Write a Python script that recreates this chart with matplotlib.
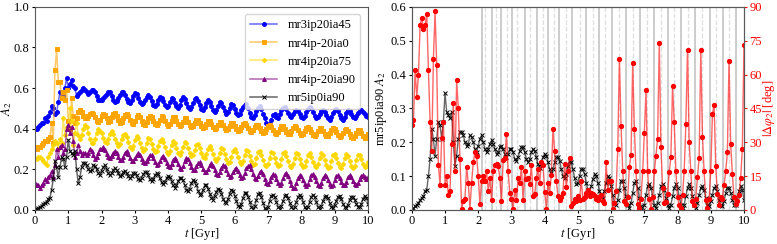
import numpy as np
import matplotlib
matplotlib.use("Agg")
import matplotlib.pyplot as plt

plt.rcParams['font.family'] = ['Liberation Serif', 'DejaVu Serif']
plt.rcParams['mathtext.fontset'] = 'stix'
plt.rcParams['font.size'] = 9
plt.rcParams['axes.edgecolor'] = '0.35'
plt.rcParams['xtick.major.size'] = 2.5
plt.rcParams['ytick.major.size'] = 2.5
plt.rcParams['xtick.major.pad'] = 1.0
plt.rcParams['ytick.major.pad'] = 1.5

# A2 of each run, sampled every 0.05 Gyr from 0 to 10 Gyr
names = ['mr3ip20ia45', 'mr4ip-20ia0', 'mr4ip20ia75', 'mr4ip-20ia90', 'mr5ip0ia90']

a2_mr3ip20ia45 = [
    0.40, 0.40, 0.41, 0.42, 0.43, 0.43, 0.45, 0.44, 0.46, 0.48,
    0.51, 0.50, 0.47, 0.48, 0.53, 0.58, 0.55, 0.56, 0.60, 0.65,
    0.60, 0.62, 0.64, 0.61, 0.60, 0.56, 0.57, 0.58, 0.59, 0.60,
    0.59, 0.58, 0.57, 0.58, 0.59, 0.59, 0.58, 0.56, 0.54, 0.54,
    0.54, 0.55, 0.56, 0.57, 0.58, 0.58, 0.56, 0.54, 0.53, 0.535,
    0.55, 0.565, 0.58, 0.58, 0.565, 0.545, 0.53, 0.525, 0.54, 0.56,
    0.575, 0.57, 0.55, 0.53, 0.52, 0.525, 0.54, 0.555, 0.565, 0.555,
    0.535, 0.515, 0.51, 0.52, 0.54, 0.555, 0.55, 0.535, 0.515, 0.505,
    0.51, 0.53, 0.55, 0.545, 0.525, 0.51, 0.50, 0.515, 0.54, 0.555,
    0.545, 0.525, 0.505, 0.495, 0.505, 0.525, 0.545, 0.55, 0.535, 0.515,
    0.495, 0.49, 0.505, 0.525, 0.54, 0.53, 0.51, 0.49, 0.48, 0.49,
    0.51, 0.53, 0.525, 0.505, 0.485, 0.47, 0.48, 0.50, 0.52, 0.515,
    0.495, 0.475, 0.465, 0.47, 0.49, 0.505, 0.515, 0.52, 0.50, 0.475,
    0.455, 0.45, 0.465, 0.485, 0.50, 0.51, 0.495, 0.47, 0.45, 0.43,
    0.42, 0.425, 0.445, 0.465, 0.47, 0.455, 0.45, 0.47, 0.49, 0.50,
    0.505, 0.495, 0.475, 0.46, 0.455, 0.47, 0.485, 0.49, 0.485, 0.47,
    0.455, 0.45, 0.46, 0.48, 0.495, 0.505, 0.50, 0.48, 0.46, 0.45,
    0.455, 0.47, 0.485, 0.49, 0.48, 0.465, 0.45, 0.445, 0.455, 0.475,
    0.49, 0.495, 0.485, 0.465, 0.45, 0.445, 0.455, 0.475, 0.49, 0.485,
    0.47, 0.455, 0.45, 0.46, 0.475, 0.49, 0.49, 0.48, 0.47, 0.46,
    0.455]

a2_mr4ip_20ia0 = [
    0.30, 0.30, 0.31, 0.31, 0.32, 0.33, 0.34, 0.34, 0.35, 0.36,
    0.43, 0.33, 0.69, 0.79, 0.63, 0.63, 0.55, 0.58, 0.54, 0.59,
    0.44, 0.40, 0.55, 0.46, 0.43, 0.45, 0.48, 0.49, 0.48, 0.46,
    0.45, 0.45, 0.46, 0.47, 0.475, 0.47, 0.455, 0.44, 0.435, 0.445,
    0.46, 0.47, 0.465, 0.45, 0.435, 0.44, 0.455, 0.47, 0.475, 0.46,
    0.445, 0.43, 0.435, 0.45, 0.465, 0.47, 0.46, 0.445, 0.43, 0.425,
    0.44, 0.455, 0.465, 0.455, 0.44, 0.425, 0.42, 0.435, 0.45, 0.46,
    0.455, 0.44, 0.425, 0.42, 0.43, 0.445, 0.46, 0.455, 0.44, 0.425,
    0.415, 0.425, 0.44, 0.455, 0.455, 0.44, 0.425, 0.415, 0.42, 0.435,
    0.45, 0.45, 0.435, 0.42, 0.41, 0.415, 0.43, 0.445, 0.445, 0.43,
    0.415, 0.405, 0.41, 0.425, 0.44, 0.44, 0.425, 0.41, 0.40, 0.405,
    0.42, 0.435, 0.435, 0.42, 0.405, 0.395, 0.40, 0.415, 0.43, 0.43,
    0.415, 0.40, 0.39, 0.395, 0.41, 0.425, 0.43, 0.42, 0.405, 0.39,
    0.385, 0.395, 0.41, 0.42, 0.42, 0.405, 0.39, 0.38, 0.385, 0.40,
    0.415, 0.42, 0.41, 0.395, 0.38, 0.375, 0.385, 0.40, 0.415, 0.415,
    0.40, 0.385, 0.375, 0.375, 0.39, 0.405, 0.415, 0.41, 0.395, 0.38,
    0.37, 0.375, 0.39, 0.405, 0.41, 0.40, 0.385, 0.37, 0.365, 0.375,
    0.39, 0.405, 0.405, 0.39, 0.375, 0.365, 0.365, 0.38, 0.395, 0.405,
    0.40, 0.385, 0.37, 0.36, 0.365, 0.38, 0.395, 0.40, 0.39, 0.375,
    0.36, 0.355, 0.365, 0.38, 0.395, 0.395, 0.38, 0.365, 0.355, 0.36,
    0.375]

a2_mr4ip20ia75 = [
    0.25, 0.25, 0.26, 0.26, 0.25, 0.24, 0.23, 0.22, 0.26, 0.28,
    0.30, 0.32, 0.34, 0.33, 0.30, 0.35, 0.33, 0.45, 0.37, 0.41,
    0.41, 0.50, 0.44, 0.32, 0.38, 0.43, 0.37, 0.35, 0.37, 0.40,
    0.42, 0.41, 0.38, 0.35, 0.33, 0.33, 0.35, 0.38, 0.40, 0.39,
    0.38, 0.355, 0.335, 0.33, 0.35, 0.375, 0.39, 0.375, 0.35, 0.33,
    0.315, 0.325, 0.35, 0.37, 0.375, 0.36, 0.335, 0.31, 0.30, 0.315,
    0.345, 0.365, 0.355, 0.33, 0.305, 0.29, 0.30, 0.33, 0.355, 0.35,
    0.325, 0.30, 0.285, 0.29, 0.315, 0.34, 0.35, 0.335, 0.31, 0.285,
    0.275, 0.29, 0.32, 0.34, 0.33, 0.305, 0.28, 0.27, 0.285, 0.31,
    0.335, 0.33, 0.305, 0.28, 0.265, 0.27, 0.295, 0.32, 0.325, 0.305,
    0.28, 0.26, 0.255, 0.275, 0.30, 0.315, 0.30, 0.275, 0.25, 0.24,
    0.255, 0.28, 0.305, 0.30, 0.275, 0.25, 0.23, 0.235, 0.26, 0.29,
    0.30, 0.285, 0.26, 0.235, 0.225, 0.24, 0.27, 0.295, 0.29, 0.265,
    0.24, 0.22, 0.225, 0.255, 0.285, 0.29, 0.27, 0.245, 0.22, 0.215,
    0.225, 0.255, 0.285, 0.28, 0.255, 0.23, 0.215, 0.22, 0.25, 0.28,
    0.285, 0.265, 0.24, 0.215, 0.21, 0.225, 0.255, 0.28, 0.275, 0.25,
    0.225, 0.21, 0.215, 0.24, 0.27, 0.28, 0.26, 0.235, 0.215, 0.21,
    0.225, 0.255, 0.28, 0.27, 0.245, 0.22, 0.205, 0.21, 0.24, 0.27,
    0.275, 0.255, 0.23, 0.21, 0.205, 0.225, 0.255, 0.275, 0.265, 0.24,
    0.215, 0.205, 0.215, 0.245, 0.27, 0.27, 0.25, 0.225, 0.21, 0.215,
    0.235]

a2_mr4ip_20ia90 = [
    0.13, 0.12, 0.12, 0.11, 0.12, 0.13, 0.15, 0.14, 0.16, 0.17,
    0.19, 0.16, 0.22, 0.30, 0.26, 0.31, 0.32, 0.28, 0.30, 0.40,
    0.42, 0.38, 0.41, 0.34, 0.26, 0.28, 0.32, 0.29, 0.27, 0.28,
    0.28, 0.27, 0.28, 0.30, 0.29, 0.27, 0.25, 0.26, 0.28, 0.30,
    0.30, 0.31, 0.295, 0.275, 0.26, 0.255, 0.265, 0.28, 0.29, 0.28,
    0.26, 0.245, 0.245, 0.26, 0.28, 0.29, 0.275, 0.255, 0.24, 0.24,
    0.255, 0.27, 0.28, 0.27, 0.25, 0.235, 0.23, 0.24, 0.255, 0.27,
    0.27, 0.255, 0.235, 0.22, 0.225, 0.24, 0.26, 0.265, 0.25, 0.23,
    0.215, 0.21, 0.225, 0.245, 0.255, 0.245, 0.225, 0.205, 0.20, 0.215,
    0.24, 0.255, 0.25, 0.23, 0.21, 0.195, 0.195, 0.215, 0.23, 0.235,
    0.22, 0.20, 0.185, 0.185, 0.20, 0.22, 0.23, 0.215, 0.195, 0.175,
    0.17, 0.185, 0.205, 0.22, 0.215, 0.195, 0.175, 0.16, 0.165, 0.185,
    0.20, 0.205, 0.19, 0.17, 0.155, 0.16, 0.18, 0.205, 0.215, 0.22,
    0.20, 0.175, 0.155, 0.15, 0.165, 0.185, 0.19, 0.175, 0.15, 0.13,
    0.125, 0.14, 0.16, 0.175, 0.17, 0.15, 0.13, 0.12, 0.13, 0.155,
    0.175, 0.18, 0.165, 0.14, 0.12, 0.11, 0.11, 0.13, 0.155, 0.17,
    0.165, 0.145, 0.125, 0.115, 0.125, 0.15, 0.17, 0.175, 0.16, 0.14,
    0.12, 0.115, 0.13, 0.155, 0.17, 0.165, 0.145, 0.125, 0.115, 0.12,
    0.145, 0.165, 0.17, 0.155, 0.135, 0.12, 0.12, 0.135, 0.16, 0.17,
    0.16, 0.14, 0.125, 0.12, 0.13, 0.15, 0.165, 0.17, 0.16, 0.15,
    0.16]

a2_mr5ip0ia90 = [
    0.0, 0.005, 0.01, 0.015, 0.02, 0.03, 0.035, 0.04, 0.055, 0.06,
    0.10, 0.15, 0.24, 0.21, 0.16, 0.21, 0.26, 0.25, 0.21, 0.26,
    0.345, 0.29, 0.28, 0.27, 0.29, 0.20, 0.13, 0.16, 0.21, 0.23,
    0.23, 0.22, 0.20, 0.19, 0.195, 0.22, 0.215, 0.20, 0.18, 0.17,
    0.19, 0.21, 0.22, 0.20, 0.18, 0.17, 0.18, 0.195, 0.205, 0.195,
    0.18, 0.165, 0.17, 0.185, 0.19, 0.18, 0.165, 0.155, 0.165, 0.18,
    0.18, 0.17, 0.15, 0.145, 0.155, 0.175, 0.185, 0.185, 0.17, 0.15,
    0.14, 0.15, 0.17, 0.18, 0.175, 0.155, 0.135, 0.125, 0.135, 0.155,
    0.165, 0.16, 0.14, 0.12, 0.11, 0.12, 0.14, 0.155, 0.155, 0.145,
    0.12, 0.10, 0.095, 0.105, 0.13, 0.145, 0.14, 0.12, 0.095, 0.075,
    0.08, 0.10, 0.12, 0.12, 0.105, 0.08, 0.06, 0.05, 0.07, 0.09,
    0.105, 0.10, 0.08, 0.055, 0.04, 0.035, 0.055, 0.08, 0.10, 0.095,
    0.07, 0.045, 0.02, 0.015, 0.03, 0.06, 0.085, 0.085, 0.065, 0.04,
    0.015, 0.005, 0.02, 0.05, 0.08, 0.085, 0.065, 0.035, 0.01, 0.0,
    0.015, 0.045, 0.07, 0.075, 0.065, 0.04, 0.015, 0.005, 0.02, 0.045,
    0.07, 0.075, 0.06, 0.035, 0.015, 0.005, 0.015, 0.04, 0.065, 0.075,
    0.065, 0.04, 0.015, 0.005, 0.015, 0.04, 0.065, 0.075, 0.065, 0.04,
    0.015, 0.005, 0.02, 0.045, 0.065, 0.07, 0.06, 0.035, 0.015, 0.01,
    0.025, 0.045, 0.065, 0.07, 0.055, 0.03, 0.015, 0.01, 0.025, 0.05,
    0.065, 0.065, 0.05, 0.03, 0.015, 0.015, 0.03, 0.055, 0.07, 0.06,
    0.03]

# phase difference |dphi2| in degrees (right panel)
dphi2 = [
    37.5, 40, 62, 50, 60, 82, 85, 80, 82, 87,
    62, 39, 26, 67, 88, 64, 20, 11, 32, 39,
    11, 15, 6.5, 8.5, 29, 47.5, 17, 57.5, 45, 22.5,
    0.5, 4, 5, 19, 12, 0.5, 12, 21, 25.5, 24,
    15, 2.5, 13, 15, 13, 17, 8.5, 14, 4.5, 17,
    20, 20.5, 19.5, 14, 4, 22, 23, 33.7, 17, 7.5,
    5, 0.5, 9, 4.5, 14, 12, 19, 4.5, 17, 13.5,
    14, 11.5, 20, 6, 7, 14, 18, 12, 21, 20,
    8, 0.5, 12, 7.5, 15.5, 36, 26, 13, 6, 4.5,
    5.5, 7.5, 20.5, 10, 17, 23, 1.5, 3, 5, 4,
    6, 4.5, 13, 5, 5.5, 7.5, 9, 6, 7.5, 7,
    6, 5, 4.5, 5.5, 6.5, 4, 3, 21, 9, 13,
    13, 0.5, 3, 8.5, 27, 67, 37, 17, 4, 2.5,
    5.5, 19, 24.5, 65, 36, 17, 2.5, 1, 5, 17,
    34, 53, 17, 5, 0.5, 5.5, 17, 24, 31.5, 74,
    28, 9.5, 3, 3.5, 7, 16.7, 23.5, 55, 39, 17,
    5.5, 2, 1, 6.5, 17, 38, 71, 30, 17, 4,
    2, 5, 14.5, 23, 71, 32.5, 17, 4.5, 1, 5,
    17, 42.5, 46.6, 19.5, 7, 2, 5.5, 5, 11, 17,
    25.5, 66, 29, 16, 5.5, 2.5, 4, 6.5, 14, 27,
    73]

# times [Gyr] of the marker lines in the right panel
t_solid = [2.10, 2.40, 2.70, 3.03, 3.40, 3.76, 4.09, 4.44, 4.81, 5.24, 5.64,
           6.02, 6.46, 6.86, 7.29, 7.71, 8.11, 8.53, 8.97, 9.37, 9.77]
t_dashed = [2.20, 2.53, 2.88, 3.18, 3.56, 3.94, 4.29, 4.64, 5.06, 5.44, 5.83,
            6.25, 6.65, 7.08, 7.50, 7.90, 8.31, 8.74, 9.16, 9.56]

series = [a2_mr3ip20ia45, a2_mr4ip_20ia0, a2_mr4ip20ia75, a2_mr4ip_20ia90, a2_mr5ip0ia90]
colors = ['blue', 'orange', 'gold', 'purple', 'black']
markers = ['o', 's', 'P', '^', 'x']

fig = plt.figure(figsize=(7.77, 2.44), dpi=100)
ax1 = fig.add_axes([0.045, 0.14, 0.4286, 0.832])
ax2 = fig.add_axes([0.530, 0.14, 0.4275, 0.832])

for vals, name, c, m in zip(series, names, colors, markers):
    t = np.linspace(0, 10, len(vals))
    rgba = matplotlib.colors.to_rgba(c, 0.6)
    ax1.plot(t, vals, color=rgba, lw=1.1, marker=m, ms=2.8,
             mfc=c, mec=c, mew=0.7, label=name)

ax1.set_xlim(0, 10)
ax1.set_ylim(0, 1.0)
ax1.set_xticks(range(0, 11))
ax1.set_yticks(np.arange(0, 1.01, 0.2))
ax1.set_xlabel(r'$t$ [Gyr]', labelpad=-0.5)
ax1.set_ylabel(r'$A_2$', labelpad=0)
leg = ax1.legend(loc='upper right', fontsize=9, frameon=True, handlelength=2.2,
                 borderaxespad=0.6)
leg.get_frame().set_edgecolor('0.8')

# right panel: A2 of mr5ip0ia90 and phase difference
for x in t_solid:
    ax2.axvline(x, color='0.8', lw=1.4, zorder=0)
for x in t_dashed:
    ax2.axvline(x, color='0.87', lw=0.9, ls='--', zorder=0)

tb = np.linspace(0, 10, len(a2_mr5ip0ia90))
ax2.plot(tb, a2_mr5ip0ia90, color=(0, 0, 0, 0.6), lw=1.0, marker='x', ms=3,
         mfc='black', mec='black', mew=0.7)
ax2.set_xlim(0, 10)
ax2.set_ylim(0, 0.6)
ax2.set_xticks(range(0, 11))
ax2.set_yticks(np.arange(0, 0.61, 0.1))
ax2.set_xlabel(r'$t$ [Gyr]', labelpad=-0.5)
ax2.set_ylabel(r'mr5ip0ia90 $A_2$', labelpad=1)

ax3 = ax2.twinx()
tr = np.linspace(0, 10, len(dphi2))
ax3.plot(tr, dphi2, color=(1, 0, 0, 0.6), lw=1.0, marker='o', ms=2.8,
         mfc='red', mec='red')
ax3.set_ylim(0, 90)
ax3.set_yticks(range(0, 91, 15))
ax3.tick_params(axis='y', colors='red')
ax3.set_ylabel(r'$|\Delta\varphi_2|$ [deg]', color='red', labelpad=-0.5)

fig.savefig('out.png', dpi=100)
